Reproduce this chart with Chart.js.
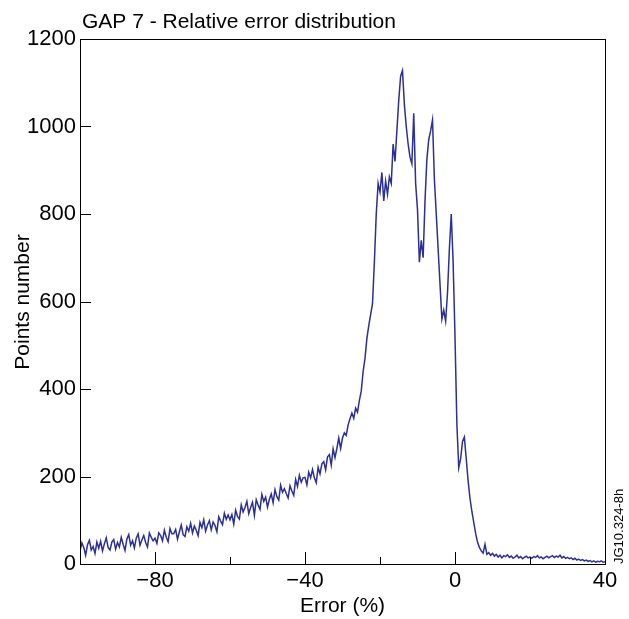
<!DOCTYPE html>
<html>
<head>
<meta charset="utf-8">
<script src="https://cdn.jsdelivr.net/npm/chart.js@4.4.0/dist/chart.umd.min.js"></script>
<style>
    html, body { margin: 0; padding: 0; background: #fff; }
    #wrap { width: 629px; height: 619px; }
</style>
</head>
<body>
<div id="wrap"><canvas id="errChart" width="629" height="619"></canvas></div>
<script>
        // Histogram: relative error (%) in 0.5 wide bins, from -100 to 40
        const binStart = -100;
        const binStep = 0.5;

        // Counts per bin (10 bins = 5 % per row)
        const counts = [
            30, 48, 38, 20, 44, 54, 32, 40, 24, 50,           // -100
            36, 52, 30, 46, 60, 38, 32, 50, 56, 34,           // -95
            49, 39, 61, 45, 31, 57, 67, 43, 53, 37,           // -90
            59, 69, 43, 55, 65, 49, 39, 71, 61, 53,           // -85
            59, 47, 71, 65, 53, 77, 61, 51, 81, 69,           // -80
            69, 79, 57, 73, 89, 67, 63, 85, 75, 93,           // -75
            71, 87, 77, 65, 95, 83, 101, 75, 89, 99,          // -70
            78, 96, 88, 74, 108, 98, 90, 116, 102, 112,       // -65
            101, 113, 91, 123, 109, 103, 135, 119, 129, 143,  // -60
            115, 129, 141, 111, 147, 135, 125, 159, 143, 153, // -55
            130, 148, 160, 140, 170, 154, 146, 180, 164, 172, // -50
            161, 151, 179, 167, 157, 193, 177, 203, 187, 197, // -45
            198, 181, 210, 197, 216, 197, 186, 221, 206, 229, // -40
            234, 215, 245, 250, 226, 263, 243, 264, 288, 264, // -35
            288, 300, 294, 318, 332, 345, 333, 356, 347, 374, // -30
            395, 440, 470, 515, 545, 570, 595, 690, 800, 870, // -25
            850, 895, 830, 875, 845, 885, 870, 960, 920, 990, // -20
            1060, 1115, 1128, 1050, 1000, 960, 930, 915, 1030, 870, // -15
            810, 690, 740, 700, 830, 925, 970, 990, 1015, 880, // -10
            800, 720, 640, 560, 580, 555, 620, 720, 800, 690, // -5
            520, 320, 220, 240, 280, 290, 240, 190, 150, 120, // 0
            95, 70, 50, 38, 30, 25, 45, 22, 26, 20,           // 5
            24, 18, 22, 16, 20, 14, 19, 17, 21, 15,           // 10
            18, 13, 16, 20, 14, 17, 12, 15, 18, 14,           // 15
            16, 13, 17, 15, 19, 14, 16, 12, 15, 18,           // 20
            14, 17, 19, 15, 18, 16, 20, 14, 17, 13,           // 25
            15, 12, 14, 10, 13, 9, 11, 8, 10, 7,              // 30
            9, 6, 8, 5, 7, 4, 6, 5, 7, 4,                     // 35
            5                                                 // 40
        ];

        const xMin = -100, xMax = 40, xStep = 20;
        const yMin = 0, yMax = 1200, yStep = 200;
        const xLabelEvery = 40;

        const titleText = 'GAP 7 - Relative error distribution';
        const xTitle = 'Error (%)';
        const yTitle = 'Points number';
        const sideNote = 'JG10.324-8h';

        const lineColor = '#2c2f94';
        const fontFamily = '"Liberation Sans", Arial, Helvetica, sans-serif';

        const points = counts.map((c, i) => ({ x: binStart + i * binStep, y: c }));

        // Frame, inward tick marks and the free text
        const framePlugin = {
            id: 'frame',
            afterDraw(chart) {
                const { ctx, chartArea: a, scales: { x, y } } = chart;
                ctx.save();
                ctx.strokeStyle = '#000';
                ctx.lineWidth = 1;
                ctx.strokeRect(a.left + 0.5, a.top + 0.5, a.right - a.left, a.bottom - a.top);

                ctx.beginPath();
                x.ticks.forEach(t => {
                    const px = Math.round(x.getPixelForValue(t.value)) + 0.5;
                    const len = t.value % xLabelEvery === 0 ? 12 : 7;
                    ctx.moveTo(px, a.bottom);
                    ctx.lineTo(px, a.bottom - len);
                });
                y.ticks.forEach(t => {
                    const py = Math.round(y.getPixelForValue(t.value)) + 0.5;
                    ctx.moveTo(a.left, py);
                    ctx.lineTo(a.left + 11, py);
                });
                ctx.stroke();

                ctx.fillStyle = '#000';
                ctx.font = '21px ' + fontFamily;
                ctx.textBaseline = 'alphabetic';
                ctx.textAlign = 'left';
                ctx.fillText(titleText, 82, 28);

                ctx.textAlign = 'center';
                ctx.fillText(xTitle, (a.left + a.right) / 2, 612);

                ctx.save();
                ctx.translate(29, 302);
                ctx.rotate(-Math.PI / 2);
                ctx.fillText(yTitle, 0, 0);
                ctx.restore();

                ctx.save();
                ctx.font = '13px ' + fontFamily;
                ctx.translate(623, a.bottom);
                ctx.rotate(-Math.PI / 2);
                ctx.textAlign = 'left';
                ctx.fillText(sideNote, 0, 0);
                ctx.restore();

                ctx.restore();
            }
        };

        const ctx = document.getElementById('errChart').getContext('2d');
        const chart = new Chart(ctx, {
            type: 'line',
            data: {
                datasets: [{
                    data: points,
                    borderColor: lineColor,
                    borderWidth: 1.5,
                    pointRadius: 0,
                    tension: 0,
                    fill: false
                }]
            },
            options: {
                responsive: false,
                animation: false,
                layout: { padding: { top: 39, right: 24, bottom: 0, left: 0 } },
                plugins: {
                    legend: { display: false },
                    tooltip: { enabled: false }
                },
                scales: {
                    x: {
                        type: 'linear',
                        min: xMin,
                        max: xMax,
                        grid: { display: false, drawTicks: false },
                        border: { display: false },
                        ticks: {
                            stepSize: xStep,
                            autoSkip: false,
                            maxRotation: 0,
                            padding: 4,
                            color: '#000',
                            font: { family: fontFamily, size: 22 },
                            callback: v => v % xLabelEvery === 0 ? String(v).replace('-', '\u2212') : ''
                        },
                        afterFit: s => { s.height = 55; }
                    },
                    y: {
                        min: yMin,
                        max: yMax,
                        grid: { display: false, drawTicks: false },
                        border: { display: false },
                        ticks: {
                            stepSize: yStep,
                            padding: 4,
                            color: '#000',
                            font: { family: fontFamily, size: 22 },
                            callback: v => String(v)
                        },
                        afterFit: s => { s.width = 80; }
                    }
                }
            },
            plugins: [framePlugin]
        });
</script>
</body>
</html>
